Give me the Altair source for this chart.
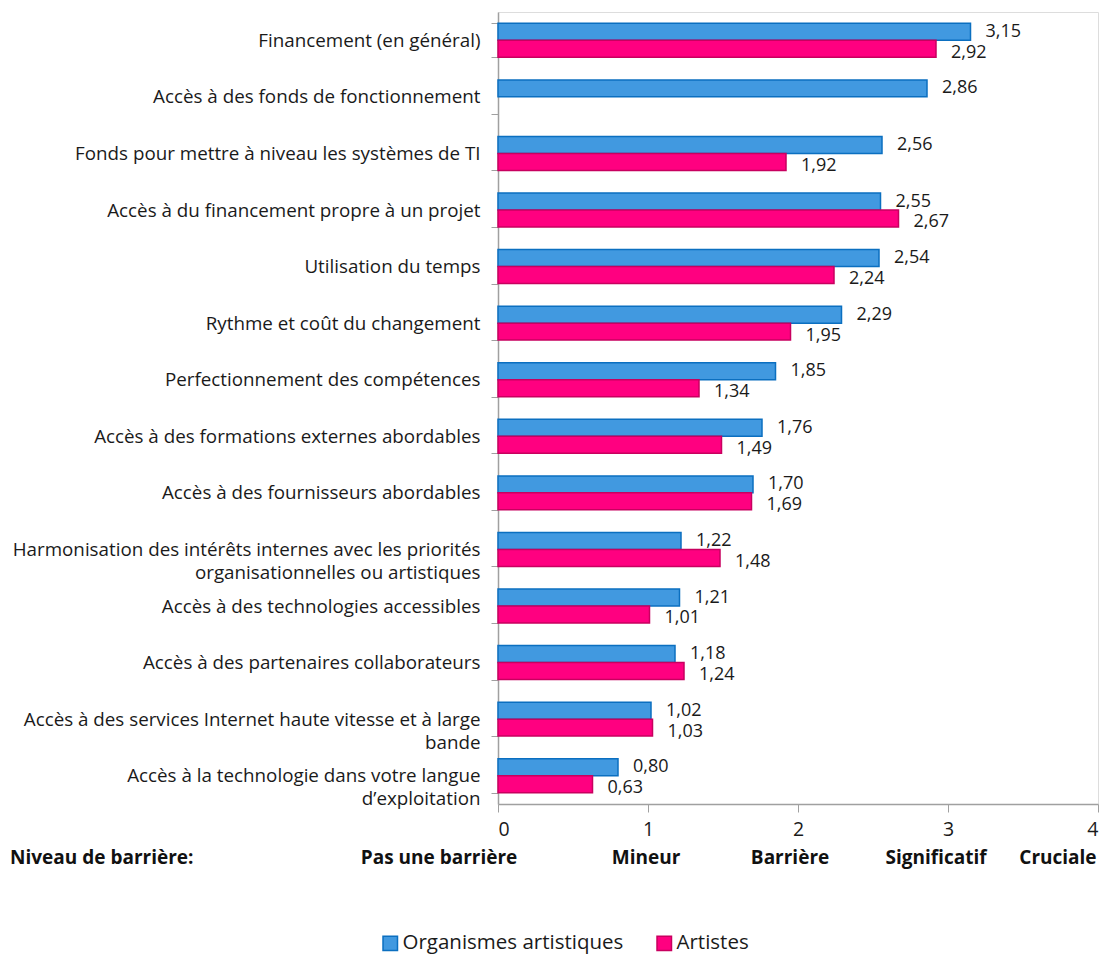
import altair as alt
import pandas as pd

categories = [
    "Financement (en général)",
    "Accès à des fonds de fonctionnement",
    "Fonds pour mettre à niveau les systèmes de TI",
    "Accès à du financement propre à un projet",
    "Utilisation du temps",
    "Rythme et coût du changement",
    "Perfectionnement des compétences",
    "Accès à des formations externes abordables",
    "Accès à des fournisseurs abordables",
    "Harmonisation des intérêts internes avec les priorités|organisationnelles ou artistiques",
    "Accès à des technologies accessibles",
    "Accès à des partenaires collaborateurs",
    "Accès à des services Internet haute vitesse et à large|bande",
    "Accès à la technologie dans votre langue|d’exploitation",
]
organismes = [3.15, 2.86, 2.56, 2.55, 2.54, 2.29, 1.85, 1.76, 1.70, 1.22, 1.21, 1.18, 1.02, 0.80]
artistes = [2.92, None, 1.92, 2.67, 2.24, 1.95, 1.34, 1.49, 1.69, 1.48, 1.01, 1.24, 1.03, 0.63]
series = ["Organismes artistiques", "Artistes"]
fill_colors = ["#4199e0", "#ff0080"]
stroke_colors = ["#0b6fc0", "#c8005f"]

level_labels = ["Pas une barrière", "Mineur", "Barrière", "Significatif", "Cruciale"]
level_pos = [-0.393, 0.987, 1.947, 2.92, 3.733]
level_title = "Niveau de barrière:"
level_title_pos = -3.253

rows = []
for c, o, a in zip(categories, organismes, artistes):
    rows.append({"cat": c, "series": series[0], "value": o})
    if a is not None:
        rows.append({"cat": c, "series": series[1], "value": a})
df = pd.DataFrame(rows)
df["label"] = df["value"].map(lambda v: f"{v:.2f}".replace(".", ","))

FONT = "Open Sans"

yenc = alt.Y(
    "cat:N",
    sort=categories,
    scale=alt.Scale(paddingInner=0.4, paddingOuter=0.2),
    axis=alt.Axis(
        title=None,
        labelExpr="isValid(datum.value) ? split(datum.value, '|') : ''",
        labelFontSize=18.8,
        labelFont=FONT,
        labelColor="#1a1a1a",
        labelLineHeight=23,
        labelPadding=11,
        labelLimit=600,
        tickBand="extent",
        tickSize=7,
        tickColor="#a0a0a0",
        domainColor="#a0a0a0",
        domainWidth=1.5,
    ),
)
yoff = alt.YOffset("series:N", sort=series, scale=alt.Scale(domain=series, paddingInner=0, paddingOuter=0))
xenc = alt.X(
    "value:Q",
    scale=alt.Scale(domain=[0, 4], nice=False),
    axis=alt.Axis(
        title=None,
        values=[0, 1, 2, 3, 4],
        format="d",
        grid=False,
        labelFontSize=19.5,
        labelFont=FONT,
        labelColor="#1a1a1a",
        labelPadding=8,
        tickSize=8,
        tickColor="#a0a0a0",
        domainColor="#a0a0a0",
        domainWidth=1.5,
    ),
)

legend_cfg = dict(
    title=None,
    orient="none",
    direction="horizontal",
    legendX=-118,
    legendY=921,
    symbolType="square",
    symbolSize=210,
    symbolStrokeWidth=1.5,
    labelFontSize=20.5,
    labelFont=FONT,
    labelColor="#1a1a1a",
    labelOffset=2,
    labelLimit=400,
    columnPadding=30,
)

base = alt.Chart(df)

bars = base.mark_bar(strokeWidth=1.5).encode(
    x=xenc,
    y=yenc,
    yOffset=yoff,
    color=alt.Color(
        "series:N",
        sort=series,
        scale=alt.Scale(domain=series, range=fill_colors),
        legend=alt.Legend(**legend_cfg),
    ),
    stroke=alt.Stroke(
        "series:N",
        sort=series,
        scale=alt.Scale(domain=series, range=stroke_colors),
        legend=alt.Legend(**legend_cfg),
    ),
)

text_org = base.transform_filter(alt.datum.series == series[0]).mark_text(
    align="left", baseline="middle", dx=15, dy=0, fontSize=18, font=FONT, color="#1a1a1a"
).encode(x="value:Q", y=alt.Y("cat:N", sort=categories), yOffset=yoff, text="label:N")

text_art = base.transform_filter(alt.datum.series == series[1]).mark_text(
    align="left", baseline="middle", dx=15, dy=4, fontSize=18, font=FONT, color="#1a1a1a"
).encode(x="value:Q", y=alt.Y("cat:N", sort=categories), yOffset=yoff, text="label:N")

lv_df = pd.DataFrame({"name": level_labels, "pos": level_pos})
levels = alt.Chart(lv_df).mark_text(
    align="center", baseline="middle", fontSize=19, fontWeight="bold", font=FONT, color="#111111"
).encode(x=alt.X("pos:Q"), y=alt.value(846), text="name:N")

lt_df = pd.DataFrame({"name": [level_title], "pos": [level_title_pos]})
level_t = alt.Chart(lt_df).mark_text(
    align="left", baseline="middle", fontSize=19, fontWeight="bold", font=FONT, color="#111111"
).encode(x=alt.X("pos:Q"), y=alt.value(846), text="name:N")

chart = alt.layer(bars, text_org, text_art, levels, level_t).properties(
    width=600,
    height=792,
    autosize=alt.AutoSizeParams(type="none"),
    padding={"left": 490, "top": 4, "right": 6, "bottom": 150},
).configure_view(fill="#f0f0f0", stroke=None).configure(background="white")

chart.save("out.html", embed_options={"renderer": "svg", "actions": False})
